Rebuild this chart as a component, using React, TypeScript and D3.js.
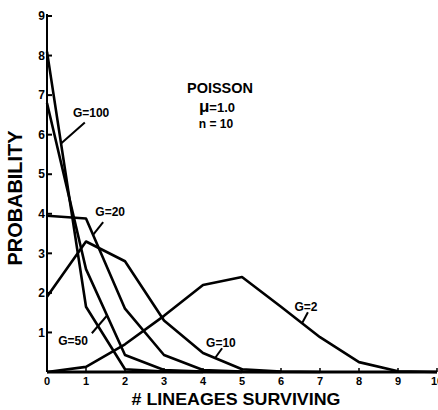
import React from "react";
import { scaleLinear, line } from "d3";

// # of lineages surviving (x) and probability x10 (y) for each G
const lineages = [0, 1, 2, 3, 4, 5, 6, 7, 8, 9, 10];
const yTicks = [1, 2, 3, 4, 5, 6, 7, 8, 9];
const xTicks = [0, 1, 2, 3, 4, 5, 6, 7, 8, 9, 10];

const g2 = [0, 0.13, 0.7, 1.42, 2.2, 2.4, 1.65, 0.88, 0.25, 0.02, 0];
const g10 = [1.9, 3.3, 2.8, 1.3, 0.48, 0.07, 0.01, 0];
const g20 = [3.95, 3.88, 1.6, 0.43, 0.05, 0.01, 0];
const g50 = [6.8, 2.6, 0.43, 0.05, 0.01, 0];
const g100 = [8.1, 1.65, 0.07, 0.01, 0];

const series = [
  { name: "G=2", values: g2 },
  { name: "G=10", values: g10 },
  { name: "G=20", values: g20 },
  { name: "G=50", values: g50 },
  { name: "G=100", values: g100 }
];

// label anchor (data units) + leader line from label to a point on its curve
const labels = [
  { name: "G=100", at: [1.13, 6.44], from: [0.97, 6.31], to: 0.36 },
  { name: "G=20", at: [1.62, 3.94], from: [1.44, 3.79], to: 1.18 },
  { name: "G=50", at: [0.67, 0.68], from: [1.15, 0.98], to: 1.54 },
  { name: "G=10", at: [4.46, 0.63], from: [4.49, 0.6], to: 4.31 },
  { name: "G=2", at: [6.64, 1.54], from: [6.69, 1.51], to: 6.54 }
];

const font = "'Liberation Sans', Arial, sans-serif";

export default function App() {
  const x = scaleLinear().domain([0, 10]).range([47, 437]);
  const y = scaleLinear().domain([0, 9]).range([372, 16]);

  const path = line<number>()
    .x((_, i) => x(lineages[i]))
    .y((d) => y(d));

  const valueAt = (values: number[], v: number) => {
    const i = Math.floor(v);
    const t = v - i;
    return values[i] + (values[i + 1] - values[i]) * t;
  };

  return (
    <svg
      width={438}
      height={410}
      style={{ position: "absolute", left: 0, top: 0, background: "#fff" }}
      fontFamily={font}
      fontWeight="bold"
    >
      {/* curves */}
      {series.map((s) => (
        <path
          key={s.name}
          d={path(s.values) ?? ""}
          fill="none"
          stroke="#000"
          strokeWidth={2.6}
          strokeLinejoin="round"
        />
      ))}

      {/* axes */}
      <line x1={x(0)} x2={x(0)} y1={y(0)} y2={y(9) - 2} stroke="#000" strokeWidth={2} />
      <line x1={x(0)} x2={x(10)} y1={y(0)} y2={y(0)} stroke="#000" strokeWidth={3} />

      {yTicks.map((t) => (
        <g key={t} transform={`translate(0,${y(t)})`}>
          <line x1={x(0)} x2={x(0) + 5} stroke="#000" strokeWidth={2} />
          <text x={x(0) - 2} dy="0.35em" textAnchor="end" fontSize={12}>
            {t}
          </text>
        </g>
      ))}

      {xTicks.map((t) => (
        <g key={t} transform={`translate(${x(t)},0)`}>
          <line y1={y(0)} y2={y(0) - 4} stroke="#000" strokeWidth={1.5} />
          <text y={385} textAnchor="middle" fontSize={11}>
            {t}
          </text>
        </g>
      ))}

      {/* axis titles */}
      <text
        x={x(5) - 6}
        y={405}
        textAnchor="middle"
        fontSize={17}
        textLength={209}
        lengthAdjust="spacingAndGlyphs"
      >
        # LINEAGES SURVIVING
      </text>
      <text
        transform="translate(22,198) rotate(-90)"
        textAnchor="middle"
        fontSize={20}
        textLength={135}
        lengthAdjust="spacingAndGlyphs"
      >
        PROBABILITY
      </text>

      {/* curve labels */}
      {labels.map((l) => {
        const s = series.find((d) => d.name === l.name)!;
        return (
          <g key={l.name}>
            <line
              x1={x(l.from[0])}
              y1={y(l.from[1])}
              x2={x(l.to)}
              y2={y(valueAt(s.values, l.to))}
              stroke="#000"
              strokeWidth={2}
            />
            <text x={x(l.at[0])} y={y(l.at[1])} textAnchor="middle" fontSize={12}>
              {l.name}
            </text>
          </g>
        );
      })}

      {/* model note */}
      <text x={220} y={93} textAnchor="middle" fontSize={14} textLength={66} lengthAdjust="spacingAndGlyphs">
        POISSON
      </text>
      <text x={217} y={112} textAnchor="middle" fontSize={13}>
        <tspan fontSize={17}>μ</tspan>=1.0
      </text>
      <text x={216} y={128} textAnchor="middle" fontSize={12}>
        n = 10
      </text>
    </svg>
  );
}
